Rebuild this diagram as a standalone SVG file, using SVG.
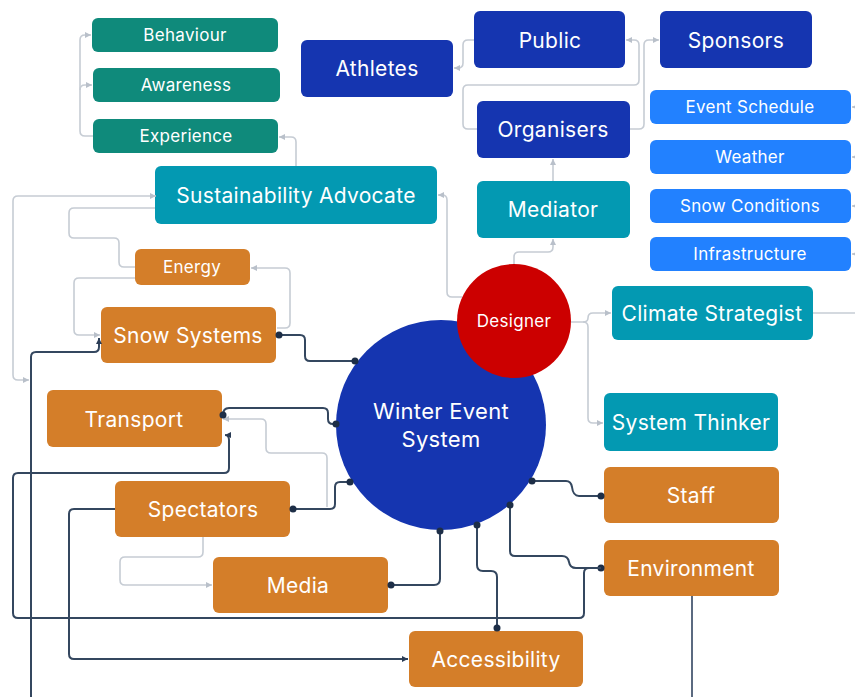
<svg xmlns="http://www.w3.org/2000/svg" width="855" height="697" viewBox="0 0 855 697">
  <defs>
    <marker id="arrowLight" viewBox="0 0 6 6" refX="6" refY="3" markerWidth="6" markerHeight="6" markerUnits="userSpaceOnUse" orient="auto-start-reverse">
      <path d="M0,0 L6,3 L0,6 z" fill="#b9c0ca"/>
    </marker>
    <marker id="arrowDark" viewBox="0 0 6 6" refX="6" refY="3" markerWidth="6" markerHeight="6" markerUnits="userSpaceOnUse" orient="auto">
      <path d="M0,0 L6,3 L0,6 z" fill="#2a3c55"/>
    </marker>
    <marker id="dot" viewBox="0 0 8 8" refX="4" refY="4" markerWidth="8" markerHeight="8" markerUnits="userSpaceOnUse">
      <circle cx="4" cy="4" r="3.5" fill="#1d2e47"/>
    </marker>
  </defs>
  <style>
    text { font-family: Inter, "Liberation Sans", sans-serif; fill: #ffffff; text-anchor: middle; dominant-baseline: central; letter-spacing: 0.3px; }
    .sm { font-size: 17px; }
    .md { font-size: 21px; }
    .lg { font-size: 22px; }
    .green { fill: #0f8a7b; }
    .navy { fill: #1535b0; }
    .sky { fill: #2281ff; }
    .teal { fill: #0399b2; }
    .orange { fill: #d47e29; }
    .light { fill: none; stroke: #c6ccd4; stroke-width: 1.6; }
    .dark { fill: none; stroke: #34475f; stroke-width: 2; }
  </style>

  <rect width="855" height="697" fill="#ffffff"/>

  <!-- nodes -->
  <g id="behaviour"><rect class="green" x="92" y="18" width="186" height="34" rx="6"/><text class="sm" x="185" y="35">Behaviour</text></g>
  <g id="awareness"><rect class="green" x="93" y="68" width="187" height="34" rx="6"/><text class="sm" x="186" y="85">Awareness</text></g>
  <g id="experience"><rect class="green" x="93" y="119" width="185" height="34" rx="6"/><text class="sm" x="186" y="136">Experience</text></g>

  <g id="athletes"><rect class="navy" x="301" y="40" width="152" height="57" rx="6"/><text class="md" x="377" y="68">Athletes</text></g>
  <g id="public"><rect class="navy" x="474" y="11" width="151" height="57" rx="6"/><text class="md" x="550" y="40">Public</text></g>
  <g id="sponsors"><rect class="navy" x="660" y="11" width="152" height="57" rx="6"/><text class="md" x="736" y="40">Sponsors</text></g>
  <g id="organisers"><rect class="navy" x="477" y="101" width="153" height="57" rx="6"/><text class="md" x="553" y="129">Organisers</text></g>

  <g id="event-schedule"><rect class="sky" x="650" y="90" width="201" height="34" rx="6"/><text class="sm" x="750" y="107">Event Schedule</text></g>
  <g id="weather"><rect class="sky" x="650" y="140" width="201" height="34" rx="6"/><text class="sm" x="750" y="157">Weather</text></g>
  <g id="snow-conditions"><rect class="sky" x="650" y="189" width="201" height="34" rx="6"/><text class="sm" x="750" y="206">Snow Conditions</text></g>
  <g id="infrastructure"><rect class="sky" x="650" y="237" width="201" height="34" rx="6"/><text class="sm" x="750" y="254">Infrastructure</text></g>

  <g id="sustainability-advocate"><rect class="teal" x="155" y="166" width="282" height="58" rx="6"/><text class="md" x="296" y="195">Sustainability Advocate</text></g>
  <g id="mediator"><rect class="teal" x="477" y="181" width="153" height="57" rx="6"/><text class="md" x="553" y="209">Mediator</text></g>
  <g id="climate-strategist"><rect class="teal" x="612" y="286" width="201" height="54" rx="6"/><text class="md" x="712" y="313">Climate Strategist</text></g>
  <g id="system-thinker"><rect class="teal" x="604" y="393" width="174" height="58" rx="6"/><text class="md" x="691" y="422">System Thinker</text></g>

  <g id="winter-event-system"><circle cx="441" cy="425" r="105" fill="#1535b0"/><text class="lg" x="441" y="411">Winter Event</text><text class="lg" x="441" y="439">System</text></g>
  <g id="designer"><circle cx="514" cy="321" r="57" fill="#cc0000"/><text class="sm" x="514" y="321">Designer</text></g>

  <g id="energy"><rect class="orange" x="135" y="249" width="115" height="36" rx="6"/><text class="sm" x="192" y="267">Energy</text></g>
  <g id="snow-systems"><rect class="orange" x="101" y="307" width="175" height="56" rx="6"/><text class="md" x="188" y="335">Snow Systems</text></g>
  <g id="transport"><rect class="orange" x="47" y="390" width="175" height="57" rx="6"/><text class="md" x="134" y="419">Transport</text></g>
  <g id="spectators"><rect class="orange" x="115" y="481" width="175" height="56" rx="6"/><text class="md" x="203" y="509">Spectators</text></g>
  <g id="media"><rect class="orange" x="213" y="557" width="175" height="56" rx="6"/><text class="md" x="298" y="585">Media</text></g>
  <g id="staff"><rect class="orange" x="604" y="467" width="175" height="56" rx="6"/><text class="md" x="691" y="495">Staff</text></g>
  <g id="environment"><rect class="orange" x="604" y="540" width="175" height="56" rx="6"/><text class="md" x="691" y="568">Environment</text></g>
  <g id="accessibility"><rect class="orange" x="409" y="631" width="174" height="56" rx="6"/><text class="md" x="496" y="659">Accessibility</text></g>

  <!-- connectors -->
  <g id="connectors">
    <!-- light links -->
    <path class="light" d="M93 136 H85 Q80 136 80 131 V90 Q80 85 85 85 H92" marker-end="url(#arrowLight)"/>
    <path class="light" d="M80 90 V40 Q80 35 85 35 H91" marker-end="url(#arrowLight)"/>
    <path class="light" d="M296 166 V142 Q296 137 291 137 H279" marker-end="url(#arrowLight)"/>
    <path class="light" d="M462 297 H452 Q447 297 447 292 V200 Q447 195 442 195 H438" marker-end="url(#arrowLight)"/>
    <path class="light" d="M514 264 V257 Q514 252 519 252 H548 Q553 252 553 247 V239" marker-end="url(#arrowLight)"/>
    <path class="light" d="M553 181 V159" marker-end="url(#arrowLight)"/>
    <path class="light" d="M477 129 H468 Q463 129 463 124 V90 Q463 85 468 85 H634 Q639 85 639 80 V45 Q639 40 634 40 H626" marker-end="url(#arrowLight)"/>
    <path class="light" d="M630 129 H639 Q644 129 644 124 V45 Q644 40 649 40 H659" marker-end="url(#arrowLight)"/>
    <path class="light" d="M474 40 H468 Q463 40 463 45 V63 Q463 68 458 68 H454" marker-end="url(#arrowLight)"/>
    <path class="light" d="M860 107 H852" marker-end="url(#arrowLight)"/>
    <path class="light" d="M860 157 H852" marker-end="url(#arrowLight)"/>
    <path class="light" d="M860 206 H852" marker-end="url(#arrowLight)"/>
    <path class="light" d="M860 254 H852" marker-end="url(#arrowLight)"/>
    <path class="light" d="M813 313 H860"/>
    <path class="light" d="M571 322 H583 Q588 322 588 318 Q588 313 593 313 H611" marker-end="url(#arrowLight)"/>
    <path class="light" d="M583 322 Q588 322 588 327 V418 Q588 423 593 423 H603" marker-end="url(#arrowLight)"/>
    <path class="light" d="M156 196 H18 Q13 196 13 201 V375 Q13 380 18 380 H29" marker-start="url(#arrowLight)" marker-end="url(#arrowLight)"/>
    <path class="light" d="M155 208 H74 Q69 208 69 213 V233 Q69 238 74 238 H114 Q119 238 119 243 V262 Q119 267 124 267 H135"/>
    <path class="light" d="M135 278 H79 Q74 278 74 283 V330 Q74 335 79 335 H100" marker-end="url(#arrowLight)"/>
    <path class="light" d="M277 328 H285 Q290 328 290 323 V273 Q290 268 285 268 H251" marker-end="url(#arrowLight)"/>
    <path class="light" d="M327 507 V458 Q327 453 322 453 H271 Q266 453 266 448 V424 Q266 419 261 419 H223" marker-end="url(#arrowLight)"/>
    <path class="light" d="M203 537 V552 Q203 557 198 557 H125 Q120 557 120 562 V580 Q120 585 125 585 H212" marker-end="url(#arrowLight)"/>

    <!-- dark links -->
    <path class="dark" d="M279 335 H300 Q305 335 305 340 V356 Q305 361 310 361 H355" marker-start="url(#dot)" marker-end="url(#dot)"/>
    <path class="dark" d="M223 415 Q223 408 229 408 H323 Q328 408 328 413 V419 Q328 424 333 424 H336" marker-start="url(#dot)" marker-end="url(#dot)"/>
    <path class="dark" d="M293 509 H330 Q335 509 335 504 V487 Q335 482 340 482 H350" marker-start="url(#dot)" marker-end="url(#dot)"/>
    <path class="dark" d="M391 585 H434 Q440 585 440 579 V531" marker-start="url(#dot)" marker-end="url(#dot)"/>
    <path class="dark" d="M497 628 V577 Q497 571 491 571 H483 Q477 571 477 565 V525" marker-start="url(#dot)" marker-end="url(#dot)"/>
    <path class="dark" d="M510 505 V551 Q510 556 515 556 H562 Q568 556 569 562 Q570 568 576 568 H601" marker-start="url(#dot)" marker-end="url(#dot)"/>
    <path class="dark" d="M532 481 H566 Q571 481 572 487 Q573 496 579 496 H601" marker-start="url(#dot)" marker-end="url(#dot)"/>
    <path class="dark" d="M601 568 H589 Q584 568 584 573 V613 Q584 618 579 618 H18 Q13 618 13 613 V478 Q13 473 18 473 H224 Q229 473 229 468 V440 Q229 435 225 435" marker-end="url(#arrowDark)"/>
    <path class="dark" d="M31 700 V357 Q31 352 36 352 H94 Q99 352 99 347 V338" marker-end="url(#arrowDark)"/>
    <path class="dark" d="M115 509 H74 Q69 509 69 514 V654 Q69 659 74 659 H408" marker-end="url(#arrowDark)"/>
    <path class="dark" d="M692 596 V700" style="stroke:#5b6a80"/>
  </g>
</svg>
